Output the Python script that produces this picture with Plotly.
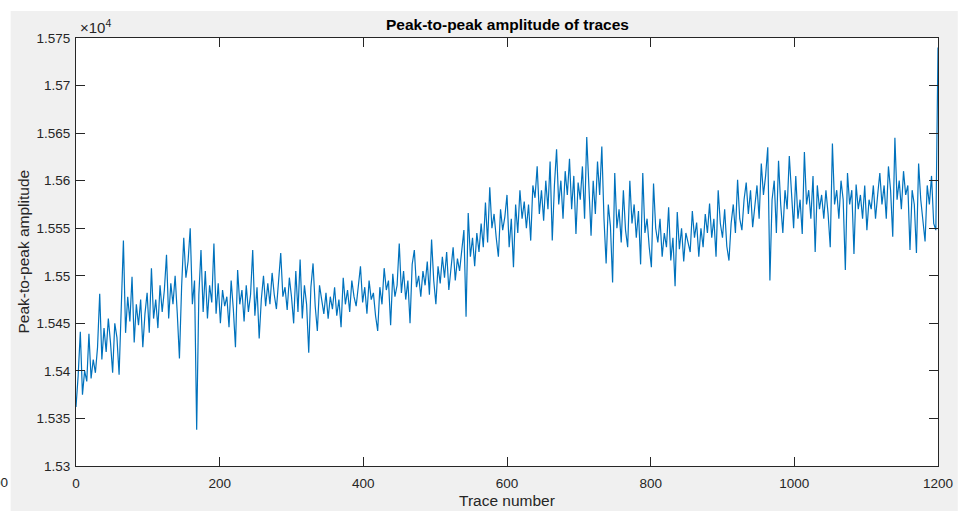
import plotly.graph_objects as go

# ---------------- data ----------------
trace_numbers = list(range(0, 1200, 3)) + [1200]

amp_0_297 = [
    15362, 15395, 15441, 15375, 15400, 15389, 15439, 15392, 15412, 15398,
    15425, 15481, 15412, 15445, 15420, 15455, 15430, 15398, 15450, 15435,
    15396, 15462, 15537, 15440, 15478, 15452, 15499, 15430, 15470, 15448,
    15475, 15425, 15460, 15482, 15440, 15508, 15455, 15475, 15445, 15490,
    15462, 15485, 15522, 15455, 15492, 15470, 15500, 15460, 15413, 15488,
    15540, 15498, 15515, 15550, 15470, 15495, 15338, 15480, 15527, 15462,
    15505, 15455, 15490, 15472, 15534, 15460, 15492, 15450, 15485, 15468,
    15478, 15446, 15495, 15465, 15425, 15506, 15470, 15485, 15452, 15490,
    15462, 15480, 15527, 15458, 15488, 15434, 15475, 15500, 15468, 15492,
    15470, 15503, 15480, 15465, 15495, 15524, 15478, 15488, 15464, 15498,
]
amp_300_597 = [
    15478, 15450, 15505, 15462, 15517, 15455, 15490, 15470, 15419, 15488,
    15513, 15468, 15442, 15490, 15475, 15460, 15482, 15455, 15478, 15465,
    15488, 15458, 15475, 15446, 15498, 15470, 15485, 15462, 15495, 15478,
    15468, 15490, 15510, 15472, 15488, 15460, 15495, 15475, 15482, 15458,
    15442, 15488, 15470, 15508, 15485, 15495, 15448, 15502, 15478, 15490,
    15534, 15482, 15505, 15475, 15495, 15450, 15512, 15527, 15488, 15500,
    15478, 15505, 15490, 15515, 15480, 15538, 15495, 15470, 15510, 15492,
    15520, 15498, 15525, 15485, 15512, 15530, 15495, 15518, 15505, 15528,
    15548, 15457, 15566, 15520, 15540, 15510, 15545, 15525, 15555, 15530,
    15577, 15535, 15593, 15550, 15565, 15540, 15520, 15570, 15548, 15562,
]
amp_600_897 = [
    15585, 15530, 15560, 15509, 15575, 15545, 15590, 15560, 15578, 15550,
    15575, 15537, 15595, 15582, 15615, 15565, 15590, 15558, 15600, 15570,
    15620, 15537, 15595, 15633, 15575, 15600, 15560, 15610, 15585, 15623,
    15570, 15605, 15544, 15598, 15580, 15615, 15560, 15646, 15590, 15542,
    15600, 15565, 15620, 15585, 15636, 15560, 15513, 15575, 15552, 15493,
    15608, 15550, 15570, 15535, 15590, 15548, 15530, 15600, 15555, 15575,
    15540, 15568, 15512, 15608, 15545, 15560, 15530, 15509, 15597, 15550,
    15535, 15560, 15520, 15545, 15530, 15572, 15516, 15540, 15489, 15567,
    15528, 15550, 15515, 15545, 15535, 15525, 15568, 15540, 15556, 15520,
    15550, 15530, 15565, 15545, 15576, 15540, 15560, 15520, 15590, 15555,
]
amp_900_1200 = [
    15540, 15570, 15531, 15516, 15555, 15575, 15545, 15601, 15560, 15548,
    15580, 15598, 15565, 15590, 15551, 15575, 15595, 15560, 15618, 15585,
    15605, 15635, 15495, 15580, 15600, 15545, 15621, 15575, 15545, 15590,
    15570, 15626, 15585, 15550, 15605, 15560, 15580, 15544, 15630, 15575,
    15590, 15560, 15605, 15525, 15595, 15570, 15585, 15560, 15590, 15565,
    15530, 15639, 15575, 15590, 15560, 15600, 15580, 15506, 15608, 15575,
    15590, 15523, 15596, 15570, 15585, 15560, 15595, 15548, 15580, 15570,
    15595, 15560, 15585, 15608, 15575, 15595, 15560, 15615, 15590, 15541,
    15645, 15580, 15600, 15570, 15610, 15585, 15595, 15527, 15590, 15575,
    15524, 15618, 15580, 15560, 15536, 15595, 15575, 15605, 15555, 15548,
    15740,
]
amplitude = amp_0_297 + amp_300_597 + amp_600_897 + amp_900_1200

x_ticks = [0, 200, 400, 600, 800, 1000, 1200]
y_ticks = [15300, 15350, 15400, 15450, 15500, 15550, 15600, 15650, 15700, 15750]
y_tick_labels = ["1.53", "1.535", "1.54", "1.545", "1.55", "1.555",
                 "1.56", "1.565", "1.57", "1.575"]

title_text = "Peak-to-peak amplitude of traces"
x_label = "Trace number"
y_label = "Peak-to-peak amplitude"

# ---------------- figure ----------------
W, H = 965, 511
L, R, T, B = 76, 18, 38, 45
PW, PH = W - L - R, H - T - B

def px_x(p):
    return (p - L) / PW

def px_y(p):
    return (H - B - p) / PH

FONT = "Liberation Sans, Arial, Helvetica, sans-serif"
AX = "#262626"
GRAY = "#f0f0f0"

fig = go.Figure()
fig.add_trace(go.Scatter(
    x=trace_numbers, y=amplitude, mode="lines",
    line=dict(color="#0072BD", width=1.2),
    showlegend=False, hoverinfo="x+y",
))

axis_common = dict(
    showline=True, linecolor=AX, linewidth=1, mirror="ticks",
    ticks="inside", ticklen=9, tickwidth=1, tickcolor=AX,
    showgrid=False, zeroline=False,
    tickfont=dict(family=FONT, size=13.5, color=AX),
)

fig.update_layout(
    width=W, height=H, autosize=False,
    margin=dict(l=L, r=R, t=T, b=B, pad=0),
    paper_bgcolor="white", plot_bgcolor="white",
    xaxis=dict(range=[0, 1200], tickvals=x_ticks, ticklabelstandoff=5,
               **axis_common),
    yaxis=dict(range=[15300, 15750], tickvals=y_ticks, ticktext=y_tick_labels,
               ticklabelstandoff=2, **axis_common),
    shapes=[
        dict(type="rect", xref="paper", yref="paper", layer="below",
             x0=px_x(10), x1=px_x(W + 2), y0=px_y(H + 2), y1=px_y(11),
             fillcolor=GRAY, line=dict(width=0)),
        dict(type="rect", xref="paper", yref="paper", layer="below",
             x0=0, x1=1, y0=0, y1=1,
             fillcolor="white", line=dict(width=0)),
    ],
    annotations=[
        dict(text="<b>" + title_text + "</b>", xref="paper", yref="paper",
             x=0.5, y=px_y(25), xanchor="center", yanchor="middle",
             showarrow=False, font=dict(family=FONT, size=15.5, color="#000000")),
        dict(text=x_label, xref="paper", yref="paper",
             x=0.5, y=px_y(500), xanchor="center", yanchor="middle",
             showarrow=False, font=dict(family=FONT, size=15.5, color=AX)),
        dict(text=y_label, xref="paper", yref="paper", textangle=-90,
             x=px_x(22), y=px_y(252), xanchor="center", yanchor="middle",
             showarrow=False, font=dict(family=FONT, size=15.5, color=AX)),
        dict(text="×10<sup>4</sup>", xref="paper", yref="paper",
             x=px_x(78), y=px_y(38), xanchor="left", yanchor="bottom",
             showarrow=False, font=dict(family=FONT, size=15, color=AX)),
        dict(text="00", xref="paper", yref="paper",
             x=px_x(9), y=px_y(482), xanchor="right", yanchor="middle",
             showarrow=False, font=dict(family=FONT, size=13.5, color=AX)),
    ],
)

fig.write_html("out.html", config={"displayModeBar": False})
